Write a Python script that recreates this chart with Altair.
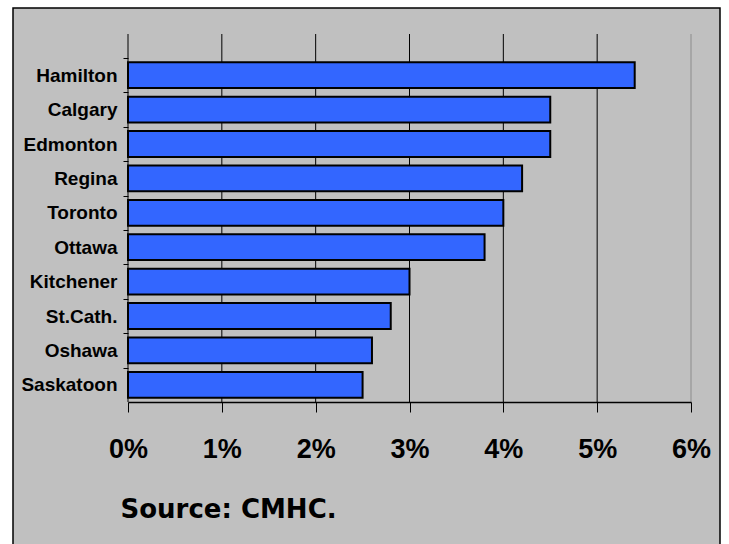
import altair as alt
import pandas as pd

cities = ["Hamilton", "Calgary", "Edmonton", "Regina", "Toronto",
          "Ottawa", "Kitchener", "St.Cath.", "Oshawa", "Saskatoon"]
values = [5.4, 4.5, 4.5, 4.2, 4.0, 3.8, 3.0, 2.8, 2.6, 2.5]
ticks = [0, 1, 2, 3, 4, 5, 6]
source_text = "Source: CMHC."

bars_df = pd.DataFrame({"city": cities, "value": values})
grid_df = pd.DataFrame({"value": ticks})
frame_df = pd.DataFrame({"a": [0]})

FONT = "Liberation Sans"

x_scale = alt.Scale(domain=[0, 6], nice=False, zero=True)
x_axis = alt.Axis(values=ticks, labelExpr="datum.value + '%'",
                  title=source_text, titleX=-8, titleY=115,
                  titleAlign="left", titleBaseline="alphabetic",
                  titleFont="DejaVu Sans", titleFontSize=26,
                  titleFontWeight="bold", titleColor="black",
                  labelFont=FONT, labelFontSize=27,
                  labelFontWeight="bold", labelColor="black",
                  labelFlush=False, labelAlign="center",
                  labelPadding=24, tickSize=10, tickColor="black",
                  domainColor="black", domainWidth=1.5,
                  grid=False, zindex=1)

frame = alt.Chart(frame_df).mark_rect(
    fill="#c0c0c0", stroke="black", strokeWidth=1.5
).encode(
    x=alt.value(-115), x2=alt.value(592),
    y=alt.value(-26), y2=alt.value(530)
)

grid = alt.Chart(grid_df).mark_rule(strokeWidth=1).encode(
    x=alt.X("value:Q", scale=x_scale, axis=x_axis),
    color=alt.condition(alt.datum.value == 6, alt.value("#8c8c8c"), alt.value("black"))
)

bars = alt.Chart(bars_df).mark_bar(
    color="#3366ff", stroke="black", strokeWidth=2
).encode(
    x=alt.X("value:Q", scale=x_scale, axis=x_axis),
    y=alt.Y("city:N", sort=cities,
            scale=alt.Scale(range=[24, 368], paddingInner=0.25, paddingOuter=0.125),
            axis=alt.Axis(title=None, labelFont=FONT, labelFontSize=19,
                          labelFontWeight="bold", labelColor="black",
                          labelPadding=6, tickSize=5, tickColor="black",
                          tickOffset=-17.2, labelOffset=17.2,
                          domain=False, grid=False, zindex=1))
)

chart = alt.layer(frame, grid, bars).properties(
    width=563, height=368,
    autosize=alt.AutoSizeParams(type="none"),
    padding={"left": 128, "top": 34, "right": 38, "bottom": 142},
    background="white"
).configure_view(stroke=None)

chart.save("out.html", embed_options={"renderer": "svg", "actions": False})
